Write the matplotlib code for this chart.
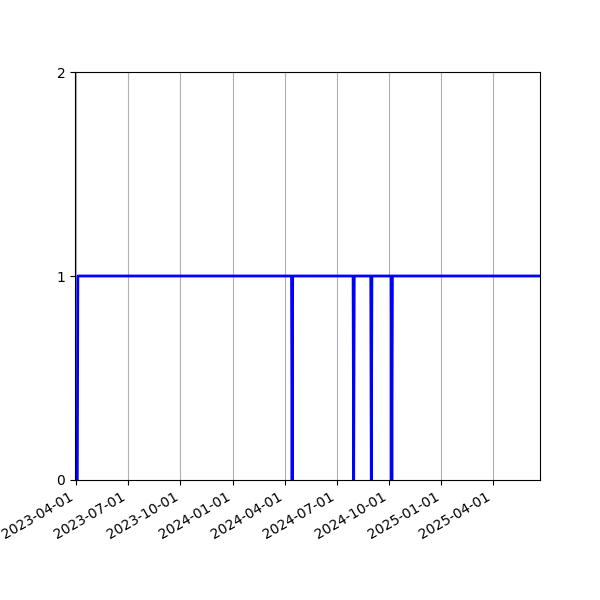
import matplotlib
matplotlib.use("Agg")
import matplotlib.pyplot as plt
import matplotlib.dates as mdates
import numpy as np

# status points (1 = up, 0 = down)
dates = [
    '2023-03-30', '2023-04-03', '2023-04-04',
    '2024-04-13', '2024-04-14', '2024-04-15',
    '2024-07-30', '2024-07-31', '2024-08-01',
    '2024-08-30', '2024-08-31', '2024-09-01',
    '2024-10-05', '2024-10-06', '2024-10-07',
    '2025-06-23',
]
values = [
    0, 0, 1,
    1, 0, 1,
    1, 0, 1,
    1, 0, 1,
    1, 0, 1,
    1,
]
y_ticks = [0, 1, 2]

x = np.array(dates, dtype='datetime64[D]')

fig, ax = plt.subplots(figsize=(6, 6), dpi=100)
ax.plot(x, values, color='blue', linewidth=2)

ax.set_xlim(x[0], x[-1])
ax.set_ylim(0, 2)
ax.set_yticks(y_ticks)
ax.xaxis.set_major_locator(mdates.MonthLocator(bymonth=[1, 4, 7, 10]))
ax.xaxis.set_major_formatter(mdates.DateFormatter('%Y-%m-%d'))
ax.grid(True, axis='x')
fig.autofmt_xdate()

plt.savefig('out.png', dpi=100)
